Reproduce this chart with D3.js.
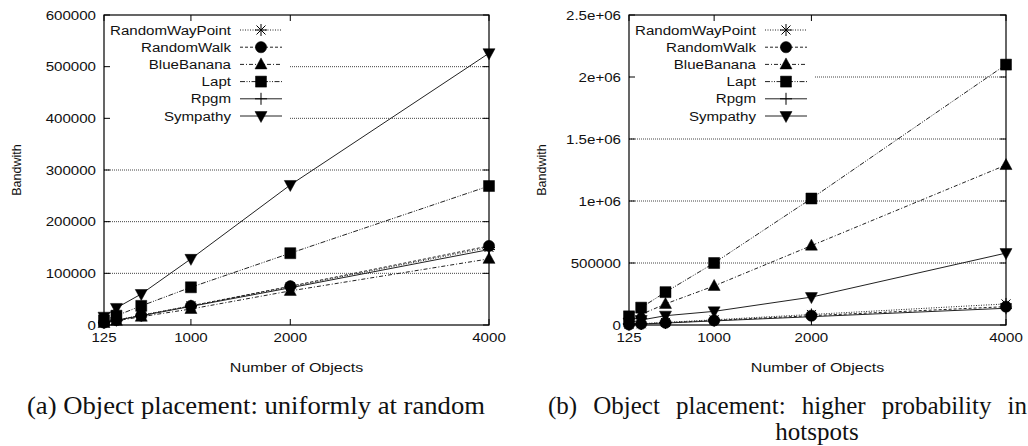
<!DOCTYPE html>
<html>
<head>
<meta charset="utf-8">
<script src="https://cdn.jsdelivr.net/npm/d3@7"></script>
<style>
  body { margin: 0; background: #fff; }
</style>
</head>
<body>
<script>
// x values (number of objects) and the labelled ticks
var objectCounts = [125, 250, 500, 1000, 2000, 4000];
var xTickValues = [125, 1000, 2000, 4000];

var seriesNames = ['RandomWayPoint', 'RandomWalk', 'BlueBanana', 'Lapt', 'Rpgm', 'Sympathy'];

// (a) uniformly at random
var uniformRandomWayPoint = [4500, 9500, 19000, 37000, 74000, 150000];
var uniformRandomWalk     = [4700, 9500, 18500, 37000, 75000, 153000];
var uniformBlueBanana     = [4000, 8000, 16000, 31000, 66000, 128000];
var uniformLapt           = [9000, 18000, 37000, 73000, 139000, 269000];
var uniformRpgm           = [4500, 9000, 18000, 36000, 72000, 146000];
var uniformSympathy       = [16000, 33000, 60000, 128000, 271000, 526000];
var uniformYTicks  = [0, 100000, 200000, 300000, 400000, 500000, 600000];
var uniformYLabels = ['0', '100000', '200000', '300000', '400000', '500000', '600000'];

// (b) higher probability in hotspots
var hotspotRandomWayPoint = [5000, 10000, 21000, 42000, 85000, 170000];
var hotspotRandomWalk     = [4000, 9000, 18000, 37000, 75000, 148000];
var hotspotBlueBanana     = [45000, 85000, 170000, 315000, 640000, 1290000];
var hotspotLapt           = [70000, 140000, 265000, 500000, 1020000, 2100000];
var hotspotRpgm           = [4000, 8000, 16000, 33000, 67000, 135000];
var hotspotSympathy       = [20000, 40000, 75000, 110000, 225000, 580000];
var hotspotYTicks  = [0, 500000, 1000000, 1500000, 2000000, 2500000];
var hotspotYLabels = ['0', '500000', '1e+06', '1.5e+06', '2e+06', '2.5e+06'];

// line dash + marker per series (gnuplot-like)
var dashes  = ['1,1.5', '3,2', '4,2,1,2', '5,1.5,1,1.5,1,1.5', null, null];
var markers = ['star', 'circle', 'triUp', 'square', 'plus', 'triDown'];

var W = 1028, H = 446;
var SANS = '"Liberation Sans", Arimo, Arial, Helvetica, sans-serif';
var SERIF = '"Liberation Serif", Tinos, "Times New Roman", Times, serif';

var svg = d3.select('body').append('svg')
  .attr('width', W)
  .attr('height', H);

function sansText(g) {
  return g.append('text')
    .attr('font-family', SANS)
    .attr('font-size', 12.5)
    .attr('fill', '#111');
}

// horizontal stretch for sans text: 'RandomWayPoint' is ~121px wide in the picture
var probe = sansText(svg).text('RandomWayPoint');
var SANS_K = 121 / probe.node().getComputedTextLength();
probe.remove();

function stretch(sel, k) {
  sel.each(function() {
    var l = this.getComputedTextLength();
    d3.select(this).attr('textLength', l * k).attr('lengthAdjust', 'spacingAndGlyphs');
  });
}

function markerPath(type) {
  switch (type) {
    case 'circle': return d3.symbol(d3.symbolCircle, 100)();
    case 'square': return 'M-5.5,-5.5H5.5V5.5H-5.5Z';
    case 'triUp': return 'M0,-6.5L6,4.5H-6Z';
    case 'triDown': return 'M0,6.5L6,-4.5H-6Z';
    case 'plus': return 'M-6,0H6M0,-6V6';
    case 'star': return 'M-6,0H6M0,-6V6M-4.5,-4.5L4.5,4.5M-4.5,4.5L4.5,-4.5';
  }
}

function drawMarker(g, type, x, y) {
  var open = (type === 'plus' || type === 'star');
  g.append('path')
    .attr('d', markerPath(type))
    .attr('transform', 'translate(' + x + ',' + y + ')')
    .attr('fill', open ? 'none' : '#000')
    .attr('stroke', '#000')
    .attr('stroke-width', open ? 1 : 0.5);
}

function drawPanel(p) {
  var g = svg.append('g');

  var x = d3.scaleLinear().domain([125, 4000]).range([p.left, p.right]);
  var y = d3.scaleLinear().domain([0, p.yTicks[p.yTicks.length - 1]]).range([p.bottom, p.top]);

  // horizontal grid
  g.selectAll('.grid')
    .data(p.yTicks.slice(1, -1))
    .enter().append('line')
      .attr('x1', p.left).attr('x2', p.right)
      .attr('y1', function(d) { return y(d); })
      .attr('y2', function(d) { return y(d); })
      .attr('stroke', '#444')
      .attr('stroke-width', 1)
      .attr('stroke-dasharray', '1,1');

  // legend sits on an opaque background
  g.append('rect')
    .attr('x', p.left + 1).attr('y', p.top + 5)
    .attr('width', p.legendX + 58 - p.left).attr('height', 110)
    .attr('fill', '#fff');

  // ticks, mirrored on all sides
  var tl = 6;
  p.yTicks.forEach(function(t) {
    g.append('line').attr('x1', p.left).attr('x2', p.left + tl)
      .attr('y1', y(t)).attr('y2', y(t)).attr('stroke', '#000');
    g.append('line').attr('x1', p.right).attr('x2', p.right - tl)
      .attr('y1', y(t)).attr('y2', y(t)).attr('stroke', '#000');
  });
  xTickValues.forEach(function(t) {
    g.append('line').attr('x1', x(t)).attr('x2', x(t))
      .attr('y1', p.bottom).attr('y2', p.bottom - tl).attr('stroke', '#000');
    g.append('line').attr('x1', x(t)).attr('x2', x(t))
      .attr('y1', p.top).attr('y2', p.top + tl).attr('stroke', '#000');
  });

  // tick labels
  p.yTicks.forEach(function(t, i) {
    var lab = sansText(g)
      .attr('x', p.left - 8)
      .attr('y', y(t))
      .attr('dy', '0.36em')
      .attr('text-anchor', 'end')
      .text(p.yLabels[i]);
    stretch(lab, SANS_K);
  });
  xTickValues.forEach(function(t) {
    var lab = sansText(g)
      .attr('x', x(t))
      .attr('y', p.bottom + 17)
      .attr('text-anchor', 'middle')
      .text(t);
    stretch(lab, SANS_K);
  });

  // axis titles
  var xt = sansText(g)
    .attr('x', (p.left + p.right) / 2)
    .attr('y', p.bottom + 47)
    .attr('text-anchor', 'middle')
    .text('Number of Objects');
  stretch(xt, SANS_K * 1.06);

  sansText(g)
    .attr('transform', 'translate(' + (p.left - 83) + ',' + ((p.top + p.bottom) / 2) + ') rotate(-90)')
    .attr('text-anchor', 'middle')
    .text('Bandwith');

  // legend
  seriesNames.forEach(function(name, i) {
    var ly = p.top + 15 + i * 17.2;
    var t = sansText(g)
      .attr('x', p.legendX)
      .attr('y', ly)
      .attr('dy', '0.36em')
      .attr('text-anchor', 'end')
      .text(name);
    stretch(t, SANS_K);
    g.append('line')
      .attr('x1', p.legendX + 9).attr('x2', p.legendX + 51)
      .attr('y1', ly).attr('y2', ly)
      .attr('stroke', '#222')
      .attr('stroke-width', 1)
      .attr('stroke-dasharray', dashes[i]);
    drawMarker(g, markers[i], p.legendX + 30, ly);
  });

  // series lines
  var line = d3.line()
    .x(function(d, i) { return x(objectCounts[i]); })
    .y(function(d) { return y(d); });

  p.series.forEach(function(vals, i) {
    g.append('path')
      .attr('d', line(vals))
      .attr('fill', 'none')
      .attr('stroke', '#222')
      .attr('stroke-width', 1)
      .attr('stroke-dasharray', dashes[i]);
  });
  p.series.forEach(function(vals, i) {
    vals.forEach(function(v, j) {
      drawMarker(g, markers[i], x(objectCounts[j]), y(v));
    });
  });

  // frame
  g.append('rect')
    .attr('x', p.left).attr('y', p.top)
    .attr('width', p.right - p.left).attr('height', p.bottom - p.top)
    .attr('fill', 'none')
    .attr('stroke', '#000')
    .attr('stroke-width', 1.2);
}

drawPanel({
  left: 104, right: 489, top: 15, bottom: 325, legendX: 231,
  yTicks: uniformYTicks, yLabels: uniformYLabels,
  series: [uniformRandomWayPoint, uniformRandomWalk, uniformBlueBanana, uniformLapt, uniformRpgm, uniformSympathy]
});

drawPanel({
  left: 629, right: 1006, top: 15, bottom: 325, legendX: 756,
  yTicks: hotspotYTicks, yLabels: hotspotYLabels,
  series: [hotspotRandomWayPoint, hotspotRandomWalk, hotspotBlueBanana, hotspotLapt, hotspotRpgm, hotspotSympathy]
});

// captions
function serifText(txt) {
  return svg.append('text')
    .attr('font-family', SERIF)
    .attr('font-size', 25)
    .attr('fill', '#111')
    .text(txt);
}

serifText('(a) Object placement: uniformly at random')
  .attr('x', 27).attr('y', 414)
  .attr('textLength', 458)
  .attr('lengthAdjust', 'spacingAndGlyphs');

// justified first line of caption (b)
var capWords = ['(b)', 'Object', 'placement:', 'higher', 'probability', 'in'];
var capLeft = 548, capRight = 1027;
var wordNodes = capWords.map(function(w) {
  return serifText(w).attr('y', 414);
});
var wordWidths = wordNodes.map(function(t) { return t.node().getComputedTextLength(); });
var gap = (capRight - capLeft - d3.sum(wordWidths)) / (capWords.length - 1);
var cx = capLeft;
wordNodes.forEach(function(t, i) {
  t.attr('x', cx);
  cx += wordWidths[i] + gap;
});

serifText('hotspots')
  .attr('x', 817).attr('y', 440)
  .attr('text-anchor', 'middle');
</script>
</body>
</html>
